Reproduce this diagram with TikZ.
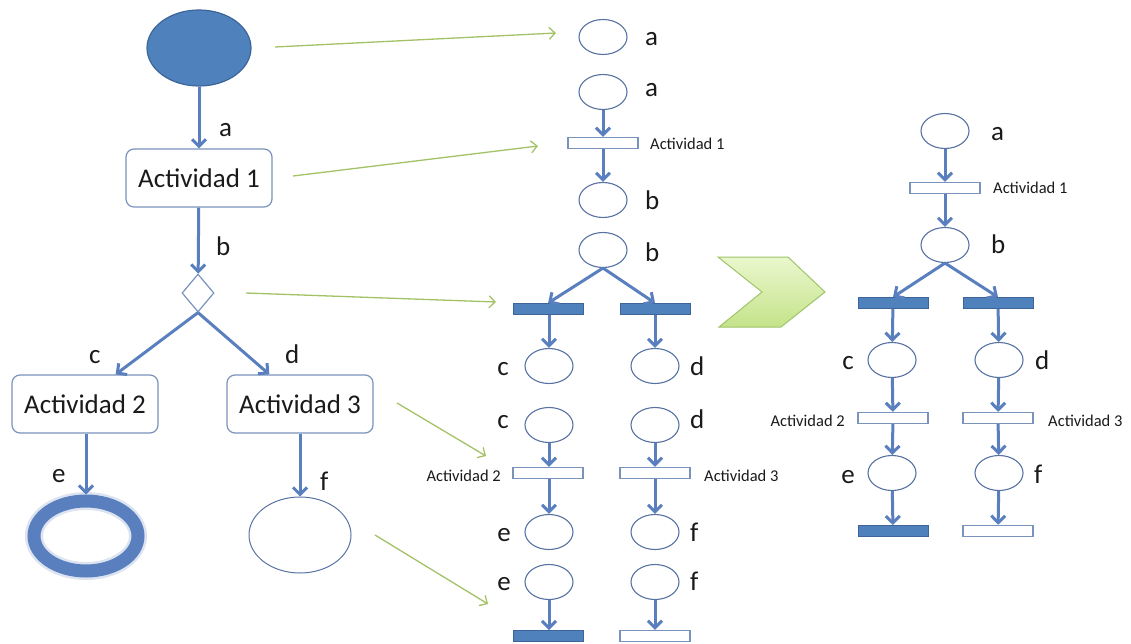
\documentclass[tikz,border=0pt]{standalone}
\usepackage{fontspec}
\setmainfont{Carlito}
\usetikzlibrary{shapes.geometric,arrows.meta}
\definecolor{flow}{HTML}{5A7FBE}
\definecolor{boxline}{HTML}{7A93BC}
\definecolor{placeline}{HTML}{5873A3}
\definecolor{fillblue}{HTML}{4F81BD}
\definecolor{darkblue}{HTML}{3D659A}
\definecolor{olive}{HTML}{A3C266}
\definecolor{chevtop}{HTML}{EAF7CD}
\definecolor{chevbot}{HTML}{C4E38A}
\definecolor{chevline}{HTML}{A0C46A}
\definecolor{ink}{HTML}{1A1A1A}
\begin{document}
\begin{tikzpicture}[x=1pt,y=-1pt,
  flowarr/.style={draw=flow,line width=3pt,-{Straight Barb[length=7pt,width=14pt]}},
  maparr/.style={draw=olive,line width=1.3pt,-{Straight Barb[length=6pt,width=12pt]}},
  actbox/.style={draw=boxline,line width=1.2pt,rounded corners=8pt,fill=white,
    minimum width=146pt,minimum height=58pt,inner sep=0pt,text=ink,
    font=\fontsize{27}{32}\selectfont},
  place/.style={ellipse,draw=placeline,line width=1.1pt,fill=white,
    minimum width=48pt,minimum height=35pt,inner sep=0pt},
  trans/.style={rectangle,draw=boxline,line width=1.3pt,fill=white,
    minimum width=70pt,minimum height=11pt,inner sep=0pt},
  bar/.style={rectangle,draw=darkblue,line width=0.8pt,fill=fillblue,
    minimum width=70pt,minimum height=11pt,inner sep=0pt},
  lbl/.style={text=ink,inner sep=0pt,font=\fontsize{27}{32}\selectfont},
  small/.style={text=ink,inner sep=0pt,font=\fontsize{16.5}{20}\selectfont}]
\useasboundingbox (0,0) rectangle (1131,644);

% ---------- activity diagram ----------
\node[ellipse,fill=fillblue,draw=darkblue,line width=1.2pt,
  minimum width=104pt,minimum height=76pt,inner sep=0pt] (start) at (199,48) {};
\node[actbox] (act1) at (199,178) {Actividad 1};
\node[diamond,draw=boxline,line width=1.2pt,fill=white,
  minimum width=32pt,minimum height=38pt,inner sep=0pt] (dec) at (198,293) {};
\node[actbox] (act2) at (85,404) {Actividad 2};
\node[actbox] (act3) at (300,404) {Actividad 3};
\node[ellipse,draw=flow!70,line width=18pt,opacity=0.3,
  minimum width=104pt,minimum height=70pt,inner sep=0pt] (endhalo) at (86,536) {};
\node[ellipse,draw=flow,line width=13pt,
  minimum width=104pt,minimum height=70pt,inner sep=0pt] (endA) at (86,536) {};
\node[ellipse,draw=placeline,line width=1pt,
  minimum width=102pt,minimum height=76pt,inner sep=0pt] (endB) at (300,535) {};

\draw[flowarr] (start) -- (act1);
\draw[flowarr] (act1) -- (dec);
\draw[flowarr] (dec.south) -- (act2.44);
\draw[flowarr] (dec.south) -- (act3.136);
\draw[flowarr] (act2.south -| endA.north) -- (endA.north);
\draw[flowarr] (act3) -- (endB);

\node[lbl,anchor=base west] (la) at (219,137) {a};
\node[lbl,anchor=base west] (lb) at (216,255) {b};
\node[lbl,anchor=base west] (lc) at (89,363) {c};
\node[lbl,anchor=base west] (ld) at (285,363) {d};
\node[lbl,anchor=base west] (le) at (52,482) {e};
\node[lbl,anchor=base west] (lf) at (320,490) {f};

% ---------- step-by-step net ----------
\node[place] (ma1) at (603,37) {};
\node[place] (ma2) at (603,92) {};
\node[trans] (mt1) at (603,143) {};
\node[place] (mb1) at (603,200) {};
\node[place] (mb2) at (603,250) {};
\node[bar]   (mfl) at (548,309) {};
\node[bar]   (mfr) at (655,309) {};
\node[place] (mc1) at (549,366) {};
\node[place] (md1) at (655,366) {};
\node[place] (mc2) at (549,425) {};
\node[place] (md2) at (655,425) {};
\node[trans] (mt2) at (548,473) {};
\node[trans] (mt3) at (655,473) {};
\node[place] (me1) at (549,532) {};
\node[place] (mf1) at (655,532) {};
\node[place] (me2) at (549,582) {};
\node[place] (mf2) at (655,582) {};
\node[bar]   (mjl) at (548,636) {};
\node[trans] (mjr) at (655,636) {};

\draw[flowarr] (ma2) -- (mt1);
\draw[flowarr] (mt1) -- (mb1);
\draw[flowarr] (mb2.south) -- (mfl.north);
\draw[flowarr] (mb2.south) -- (mfr.north);
\draw[flowarr] (mfl.south -| mc1.north) -- (mc1);
\draw[flowarr] (mfr) -- (md1);
\draw[flowarr] (mc2) -- (mc2 |- mt2.north);
\draw[flowarr] (md2) -- (mt3);
\draw[flowarr] (mc2 |- mt2.south) -- (me1);
\draw[flowarr] (mt3) -- (mf1);
\draw[flowarr] (me2) -- (me2 |- mjl.north);
\draw[flowarr] (mf2) -- (mjr);

\node[lbl,anchor=base west] at (645,46) {a};
\node[lbl,anchor=base west] at (645,97) {a};
\node[small,anchor=base west] at (650,150) {Actividad 1};
\node[lbl,anchor=base west] at (645,210) {b};
\node[lbl,anchor=base west] at (645,261) {b};
\node[lbl,anchor=base east] at (509,375) {c};
\node[lbl,anchor=base west] at (690,375) {d};
\node[lbl,anchor=base east] at (509,428) {c};
\node[lbl,anchor=base west] at (690,428) {d};
\node[small,anchor=base east] at (501,481) {Actividad 2};
\node[small,anchor=base west] at (704,481) {Actividad 3};
\node[lbl,anchor=base east] at (511,541) {e};
\node[lbl,anchor=base west] at (690,541) {f};
\node[lbl,anchor=base east] at (511,590) {e};
\node[lbl,anchor=base west] at (690,590) {f};

% ---------- mapping arrows ----------
\coordinate (g1s) at (275,47);  \coordinate (g1e) at (556,33);
\coordinate (g2s) at (293,176); \coordinate (g2e) at (538,146);
\coordinate (g3s) at (246,293); \coordinate (g3e) at (496,302);
\coordinate (g4s) at (397,403); \coordinate (g4e) at (486,456);
\coordinate (g5s) at (375,535); \coordinate (g5e) at (488,604);
\draw[maparr] (g1s) -- (g1e);
\draw[maparr] (g2s) -- (g2e);
\draw[maparr] (g3s) -- (g3e);
\draw[maparr] (g4s) -- (g4e);
\draw[maparr] (g5s) -- (g5e);

% ---------- chevron ----------
\shade[top color=chevtop,bottom color=chevbot,draw=chevline,line width=1pt]
  (718,257) -- (788,257) -- (825,292) -- (781,327) -- (719,327) -- (762,292) -- cycle;

% ---------- reduced net ----------
\node[place] (ra)  at (945,131) {};
\node[trans] (rt1) at (945,188) {};
\node[place] (rb)  at (945,245) {};
\node[bar]   (rfl) at (893,303) {};
\node[bar]   (rfr) at (998,303) {};
\node[place] (rc)  at (892,360) {};
\node[place] (rd)  at (999,360) {};
\node[trans] (rt2) at (893,418) {};
\node[trans] (rt3) at (998,418) {};
\node[place] (re)  at (892,473) {};
\node[place] (rf)  at (999,473) {};
\node[bar]   (rjl) at (893,531) {};
\node[trans] (rjr) at (998,531) {};

\draw[flowarr] (ra) -- (rt1);
\draw[flowarr] (rt1) -- (rb);
\draw[flowarr] (rb.south) -- (rfl.north);
\draw[flowarr] (rb.south) -- (rfr.north);
\draw[flowarr] (rfl) -- (rc);
\draw[flowarr] (rfr) -- (rd);
\draw[flowarr] (rc) -- (rt2);
\draw[flowarr] (rd) -- (rt3);
\draw[flowarr] (rt2) -- (re);
\draw[flowarr] (rt3) -- (rf);
\draw[flowarr] (re) -- (rjl);
\draw[flowarr] (rf) -- (rjr);

\node[lbl,anchor=base west] at (991,141) {a};
\node[small,anchor=base west] at (993,194) {Actividad 1};
\node[lbl,anchor=base west] at (991,254) {b};
\node[lbl,anchor=base east] at (854,369) {c};
\node[lbl,anchor=base west] at (1035,369) {d};
\node[small,anchor=base east] at (845,426) {Actividad 2};
\node[small,anchor=base west] at (1048,426) {Actividad 3};
\node[lbl,anchor=base east] at (855,483) {e};
\node[lbl,anchor=base west] at (1034,483) {f};
\end{tikzpicture}
\end{document}
